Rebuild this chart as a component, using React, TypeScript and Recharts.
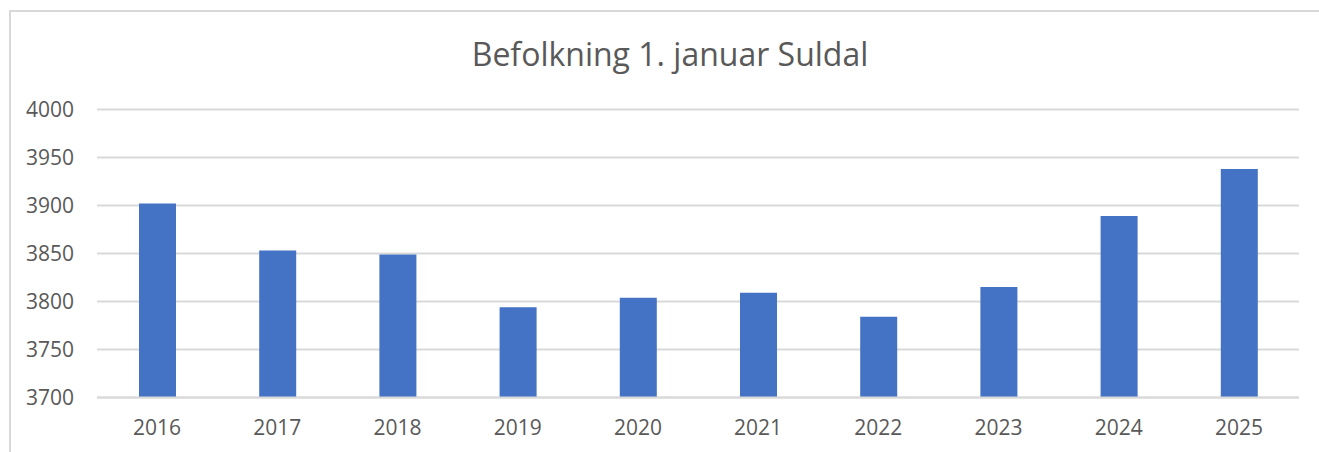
import React from 'react';
import { BarChart, Bar, XAxis, YAxis, CartesianGrid } from 'recharts';

const years = ['2016', '2017', '2018', '2019', '2020', '2021', '2022', '2023', '2024', '2025'];
const population = [3902, 3853, 3849, 3794, 3804, 3809, 3784, 3815, 3889, 3938];
const yTicks = [3700, 3750, 3800, 3850, 3900, 3950, 4000];

const FONT = '"Open Sans", sans-serif';
const TEXT = '#595959';

export default function App() {
  const data = years.map((y, i) => ({ year: y, value: population[i] }));

  return (
    <div style={{ position: 'absolute', left: 0, top: 0, width: 1319, height: 452, overflow: 'hidden', background: '#fff', fontFamily: FONT }}>
      {/* chart frame, cut off at right and bottom like in the screenshot */}
      <div style={{ position: 'absolute', left: 9, top: 10, width: 1330, height: 460, border: '2px solid #d9d9d9', boxSizing: 'border-box' }} />
      <div style={{ position: 'absolute', left: 0, top: 34, width: 1340, textAlign: 'center', fontSize: 32, color: TEXT, lineHeight: '40px' }}>
        Befolkning 1. januar Suldal
      </div>
      <div style={{ position: 'absolute', left: 0, top: 0 }}>
        <BarChart width={1319} height={452} data={data} margin={{ top: 109.5, right: 20, bottom: 0, left: 0 }}>
          <CartesianGrid vertical={false} stroke="#d9d9d9" strokeWidth={2} />
          <XAxis
            dataKey="year"
            axisLine={{ stroke: '#d9d9d9', strokeWidth: 2 }}
            tickLine={false}
            tickSize={0}
            tickMargin={23}
            height={54.5}
            tick={{ fill: TEXT, fontSize: 21, fontFamily: FONT }}
          />
          <YAxis
            domain={[3700, 4000]}
            ticks={yTicks}
            axisLine={false}
            tickLine={false}
            tickSize={0}
            tickMargin={23}
            width={97}
            interval={0}
            tick={{ fill: TEXT, fontSize: 21, fontFamily: FONT }}
          />
          <Bar dataKey="value" fill="#4472C4" barSize={37} isAnimationActive={false} />
        </BarChart>
      </div>
    </div>
  );
}
